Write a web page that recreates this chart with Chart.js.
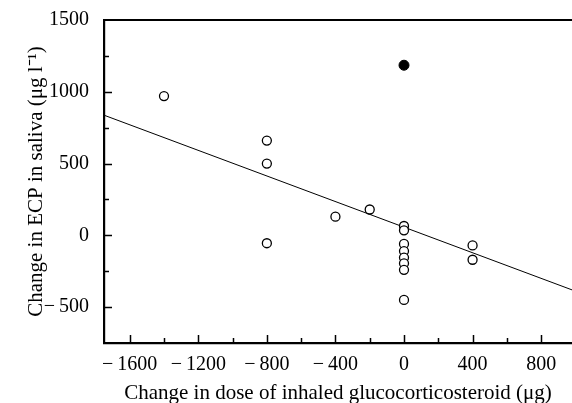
<!DOCTYPE html>
<html>
<head>
<meta charset="utf-8">
<script src="https://cdn.jsdelivr.net/npm/chart.js@4.4.0/dist/chart.umd.min.js"></script>
<style>
    html, body { margin: 0; padding: 0; background: #fff; }
    #wrap { width: 572px; height: 403px; }
</style>
</head>
<body>
<div id="wrap"><canvas id="chart_canvas"></canvas></div>
<script>
// change in inhaled dose (ug) vs change in saliva ECP (ug/l)
const open_x = [-1400, -800, -800, -800, -400, -200, 0, 0, 0, 0, 0, 0, 0, 0, 400, 400];
const open_y = [970, 660, 500, -55, 130, 180, 65, 35, -60, -110, -155, -195, -240, -450, -70, -170];
const filled_x = [0];
const filled_y = [1185];
// regression line end points
const fit_x = [-1750, 980];
const fit_y = [837, -380];

const x_ticks = [-1600, -1400, -1200, -1000, -800, -600, -400, -200, 0, 200, 400, 600, 800];
const y_ticks = [-750, -500, -250, 0, 250, 500, 750, 1000, 1250, 1500];

const serif = "'Liberation Serif', 'Times New Roman', serif";

function to_points(xs, ys) {
    let pts = [];
    for (let i = 0; i < xs.length; i++) {
        pts.push({x: xs[i], y: ys[i]});
    }
    return pts;
}

function fmt(v) {
    return v < 0 ? '\u2212\u2009' + Math.abs(v) : String(v);
}

function no_padding(s) {
    s.paddingTop = 0;
    s.paddingBottom = 0;
    s.paddingLeft = 0;
    s.paddingRight = 0;
}

// ticks point inward, short for minor ones, plus the top frame line
const inner_ticks_plugin = {
    id: 'inner_ticks',
    afterDraw: (chart) => {
        const ctx = chart.ctx;
        const area = chart.chartArea;
        const xs = chart.scales.x, ys = chart.scales.y;
        ctx.save();
        ctx.strokeStyle = '#000';
        ctx.lineWidth = 1.5;
        ctx.beginPath();
        x_ticks.forEach(v => {
            let px = Math.round(xs.getPixelForValue(v)) + 0.5;
            let len = (v % 400 === 0) ? 8 : 5;
            ctx.moveTo(px, area.bottom);
            ctx.lineTo(px, area.bottom - len);
        });
        y_ticks.forEach(v => {
            if (v === -750 || v === 1500) return;
            let py = Math.round(ys.getPixelForValue(v)) + 0.5;
            let len = (v % 500 === 0) ? 8 : 5;
            ctx.moveTo(area.left, py);
            ctx.lineTo(area.left + len, py);
        });
        ctx.stroke();
        ctx.lineWidth = 2.2;
        ctx.beginPath();
        ctx.moveTo(area.left - 1, area.top);
        ctx.lineTo(area.right, area.top);
        ctx.stroke();
        ctx.restore();
    }
};

const config = {
    type: 'scatter',
    data: {
        datasets: [{
            label: 'fit',
            data: to_points(fit_x, fit_y),
            showLine: true,
            borderColor: '#000',
            borderWidth: 1,
            pointRadius: 0,
            order: 3
        }, {
            label: 'open',
            data: to_points(open_x, open_y),
            backgroundColor: '#fff',
            borderColor: '#000',
            borderWidth: 1.3,
            pointRadius: 4.5,
            order: 1
        }, {
            label: 'filled',
            data: to_points(filled_x, filled_y),
            backgroundColor: '#000',
            borderColor: '#000',
            borderWidth: 1,
            pointRadius: 5,
            order: 2
        }]
    },
    options: {
        animation: false,
        responsive: true,
        maintainAspectRatio: false,
        layout: {autoPadding: false, padding: {top: 20, right: 0, left: 0, bottom: 0}},
        plugins: {
            legend: {display: false},
            tooltip: {enabled: false}
        },
        scales: {
            x: {
                type: 'linear',
                min: -1750,
                max: 980,
                afterBuildTicks: (s) => { s.ticks = x_ticks.map(v => ({value: v})); },
                afterFit: (s) => { s.height = 60; no_padding(s); },
                grid: {display: false, drawTicks: false},
                border: {display: true, color: '#000', width: 2.2},
                ticks: {
                    color: '#000',
                    padding: 10,
                    maxRotation: 0,
                    autoSkip: false,
                    font: {family: serif, size: 20},
                    callback: (v) => (v % 400 === 0 ? fmt(v) : '')
                },
                title: {
                    display: true,
                    text: 'Change in dose of inhaled glucocorticosteroid (\u03BCg)',
                    color: '#000',
                    font: {family: serif, size: 21},
                    padding: {top: 0, bottom: -3}
                }
            },
            y: {
                type: 'linear',
                min: -750,
                max: 1500,
                afterBuildTicks: (s) => { s.ticks = y_ticks.map(v => ({value: v})); },
                afterFit: (s) => { s.width = 104; no_padding(s); },
                grid: {display: false, drawTicks: false},
                border: {display: true, color: '#000', width: 2.2},
                ticks: {
                    color: '#000',
                    padding: 15,
                    autoSkip: false,
                    font: {family: serif, size: 20},
                    callback: (v) => (v % 500 === 0 ? fmt(v) : '')
                },
                title: {
                    display: true,
                    text: 'Change in ECP in saliva (\u03BCg l\u207B\u00B9)',
                    color: '#000',
                    font: {family: serif, size: 21},
                    padding: {top: 24, bottom: 0}
                }
            }
        }
    },
    plugins: [inner_ticks_plugin]
};

new Chart(document.getElementById('chart_canvas').getContext('2d'), config);
</script>
</body>
</html>
